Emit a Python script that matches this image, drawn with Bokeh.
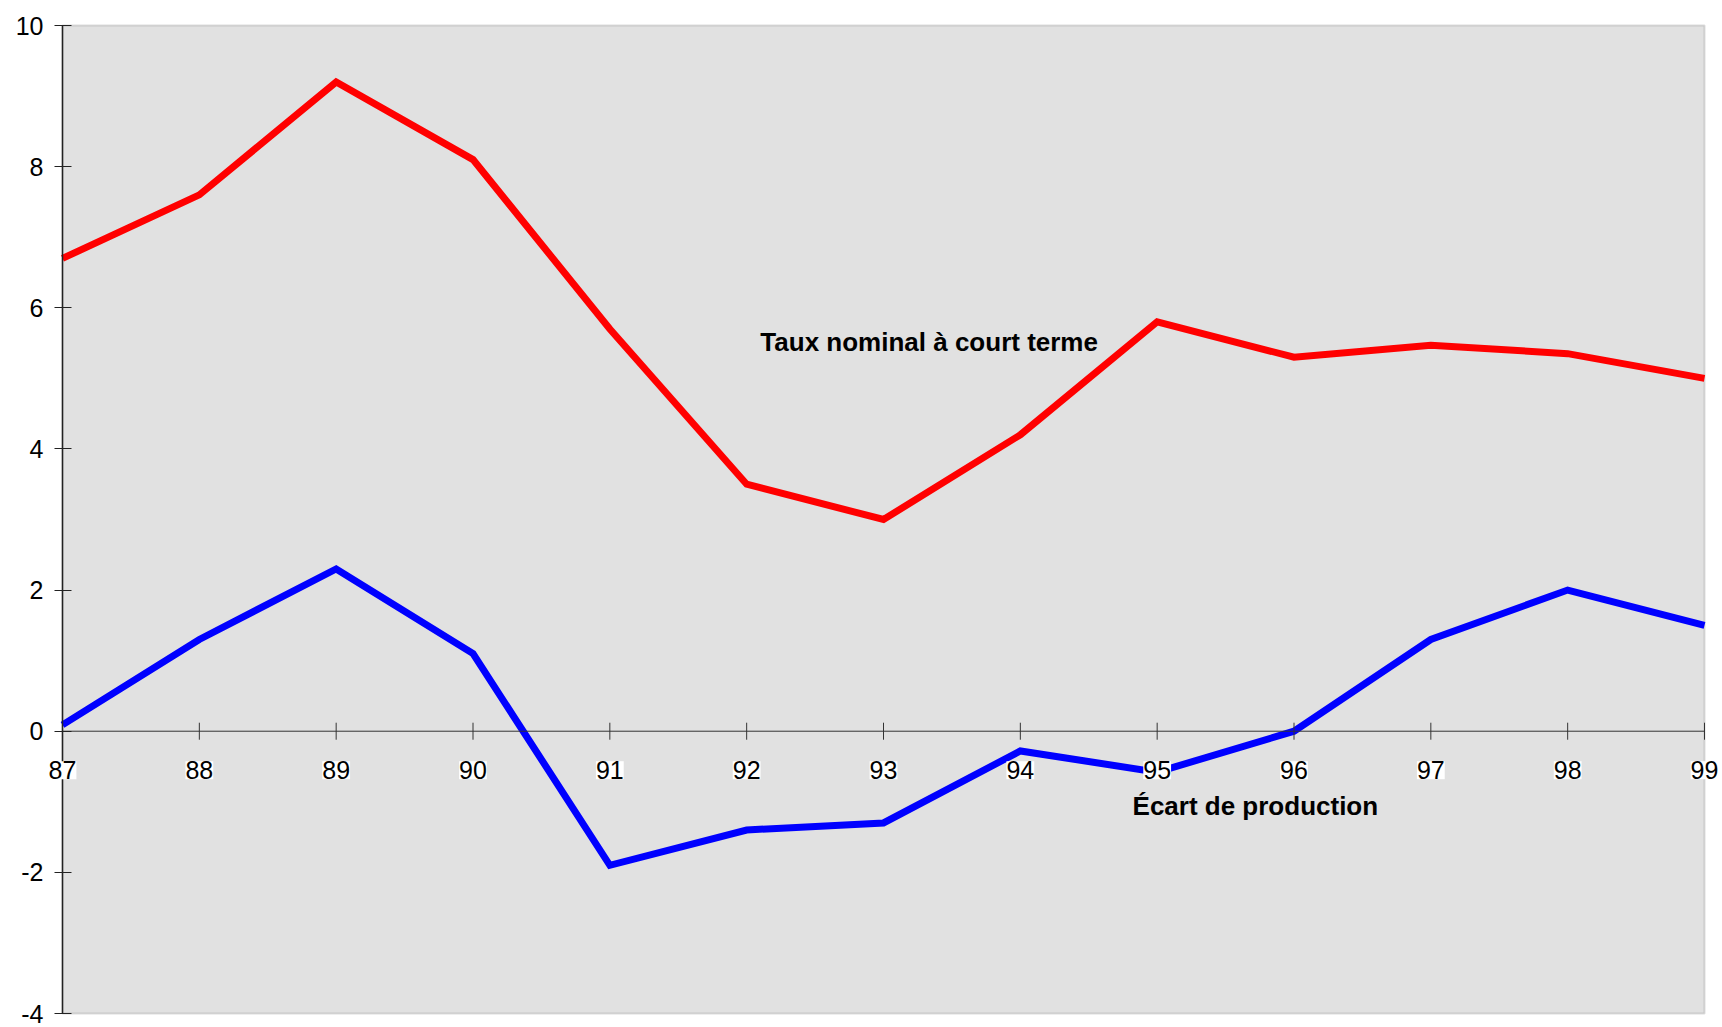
import numpy as np
from bokeh.plotting import figure
from bokeh.models import (LinearAxis, FixedTicker, Range1d, Label, LabelSet,
                          BoxAnnotation, ColumnDataSource)
from bokeh.core.properties import value
from bokeh.embed import file_html
from bokeh.resources import INLINE

# ---- data ----
years = [87, 88, 89, 90, 91, 92, 93, 94, 95, 96, 97, 98, 99]
year_labels = ["87", "88", "89", "90", "91", "92", "93", "94", "95", "96", "97", "98", "99"]
taux_nominal = [6.7, 7.6, 9.2, 8.1, 5.7, 3.5, 3.0, 4.2, 5.8, 5.3, 5.47, 5.35, 5.0]
ecart_production = [0.09, 1.3, 2.3, 1.1, -1.9, -1.4, -1.3, -0.28, -0.58, 0.0, 1.3, 2.0, 1.5]
y_ticks = [-4, -2, 0, 2, 4, 6, 8, 10]
y_tick_labels = ["-4", "-2", "0", "2", "4", "6", "8", "10"]

FONT = "Liberation Sans"

# ---- layout (pixels) ----
W, H = 1721, 1026
PL, PR, PT, PB = 62, 1704, 25, 1013
X0, X1 = years[0], years[-1]
Y0, Y1 = y_ticks[0], y_ticks[-1]
kx = (PR - PL) / (X1 - X0)
ky = (PB - PT) / (Y1 - Y0)
x_range = Range1d(X0 - PL / kx, X1 + (W - PR) / kx)
y_range = Range1d(Y0 - (H - PB) / ky, Y1 + PT / ky)

p = figure(width=W, height=H, output_backend="svg", toolbar_location=None,
           x_range=x_range, y_range=y_range,
           x_axis_location=None, y_axis_location=None,
           min_border=0)
p.background_fill_color = "white"
p.border_fill_color = "white"
p.outline_line_color = None
p.xgrid.visible = False
p.ygrid.visible = False

# grey plot area with grey border
p.add_layout(BoxAnnotation(left=X0, right=X1, bottom=Y0, top=Y1,
                           fill_color="#e1e1e1", fill_alpha=1.0,
                           line_color="#8c8c8c", line_width=2, level="underlay"))

# y axis at x = 87
yax = LinearAxis(fixed_location=X0, bounds=(Y0, Y1),
                 ticker=FixedTicker(ticks=y_ticks),
                 major_label_overrides={t: s for t, s in zip(y_ticks, y_tick_labels)})
yax.minor_tick_line_color = None
yax.major_tick_in = 9
yax.major_tick_out = 8
yax.major_tick_line_color = "#222222"
yax.axis_line_color = "#222222"
yax.axis_line_width = 1.5
yax.major_label_text_font = FONT
yax.major_label_text_font_size = "25px"
yax.major_label_text_color = "black"
yax.major_label_standoff = 11
p.add_layout(yax, "left")

# series
p.line(years, taux_nominal, line_color="#ff0000", line_width=7, line_join="miter")
p.line(years, ecart_production, line_color="#0000ff", line_width=7, line_join="miter")

# x axis crossing at y = 0: line, tick marks, labels with white background
p.segment(x0=[years[0]], y0=[0], x1=[years[-1]], y1=[0], line_color="#333333", line_width=1)
tick_src = ColumnDataSource(dict(x=years, y=[0] * len(years), t=year_labels))
p.scatter("x", "y", source=tick_src, marker="dash", size=17, angle=np.pi / 2,
          line_color="#333333", line_width=1)
p.add_layout(LabelSet(x="x", y="y", text="t", source=tick_src, y_offset=-39,
                      text_align="center", text_baseline="middle",
                      text_font=value(FONT), text_font_size=value("25px"),
                      text_color="black", background_fill_color="white"))

# series annotations
p.add_layout(Label(x=92.10, y=5.51, text="Taux nominal à court terme",
                   text_font=FONT, text_font_size="26px", text_font_style="bold",
                   text_baseline="middle", text_align="left", text_color="black"))
p.add_layout(Label(x=94.82, y=-1.06, text="Écart de production",
                   text_font=FONT, text_font_size="26px", text_font_style="bold",
                   text_baseline="middle", text_align="left", text_color="black"))

open("out.html", "w").write(file_html(p, INLINE))
